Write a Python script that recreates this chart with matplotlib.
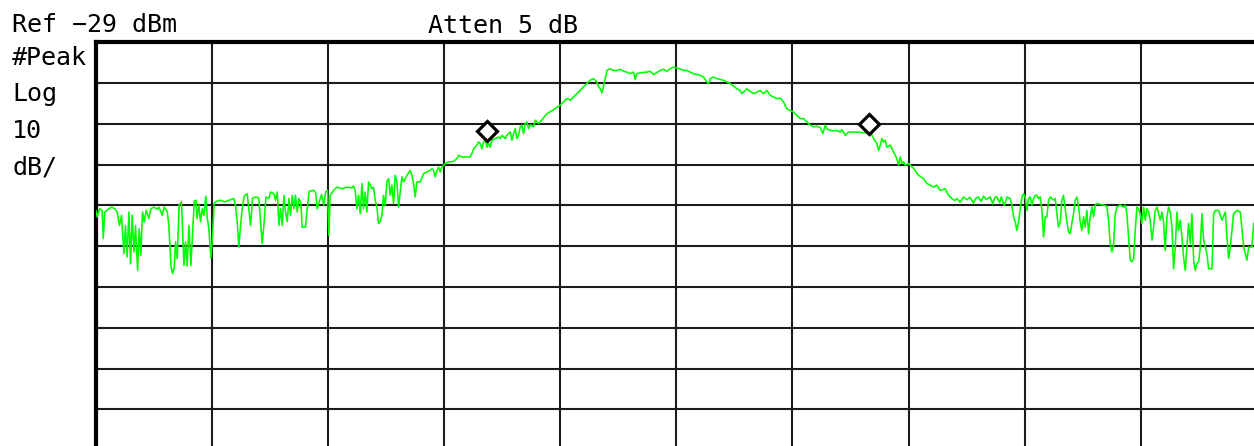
import matplotlib
matplotlib.use("Agg")
import matplotlib.pyplot as plt

REF_LEVEL = -29.0   # dBm at the top graticule line
DB_PER_DIV = 10.0
N_DIV = 10

# trace vertices: position in graticule divisions, level in dBm
trace_div = [
    0.000, 0.012, 0.032, 0.055, 0.064, 0.078, 0.113, 0.136, 0.164, 0.184,
    0.204, 0.222, 0.242, 0.256, 0.270, 0.285, 0.299, 0.313, 0.328, 0.342,
    0.360, 0.374, 0.388, 0.402, 0.417, 0.434, 0.457, 0.474, 0.503, 0.529,
    0.543, 0.572, 0.589, 0.615, 0.629, 0.647, 0.661, 0.675, 0.687, 0.701,
    0.718, 0.738, 0.759, 0.773, 0.787, 0.802, 0.819, 0.830, 0.848, 0.862,
    0.873, 0.888, 0.902, 0.917, 0.931, 0.948, 0.960, 0.974, 0.991, 1.005,
    1.020, 1.037, 1.074, 1.112, 1.146, 1.189, 1.204, 1.218, 1.232, 1.247,
    1.261, 1.278, 1.304, 1.318, 1.333, 1.350, 1.381, 1.404, 1.419, 1.433,
    1.448, 1.465, 1.491, 1.505, 1.534, 1.548, 1.563, 1.577, 1.591, 1.606,
    1.620, 1.634, 1.649, 1.663, 1.677, 1.692, 1.706, 1.720, 1.735, 1.749,
    1.766, 1.778, 1.806, 1.821, 1.838, 1.878, 1.893, 1.907, 1.921, 1.944,
    1.964, 1.979, 1.996, 2.007,
    2.019, 2.048, 2.077, 2.120, 2.163, 2.206, 2.220, 2.234, 2.249, 2.263,
    2.278, 2.292, 2.306, 2.321, 2.335, 2.349, 2.364, 2.378, 2.392, 2.407,
    2.421, 2.435, 2.450, 2.464, 2.478, 2.493, 2.507, 2.522, 2.536, 2.550,
    2.565, 2.579, 2.593, 2.608, 2.622, 2.636, 2.651, 2.680, 2.708, 2.723,
    2.737, 2.751, 2.766, 2.795, 2.823, 2.852, 2.880, 2.895, 2.909, 2.924,
    2.938, 2.952, 2.967, 2.981, 3.010, 3.039, 3.081, 3.110, 3.125, 3.153,
    3.197, 3.225, 3.239, 3.254, 3.282, 3.297, 3.311, 3.325, 3.340, 3.354,
    3.369, 3.383, 3.397, 3.412, 3.440, 3.469, 3.483, 3.498, 3.527, 3.541,
    3.570, 3.584, 3.598, 3.613, 3.627, 3.641, 3.656, 3.670, 3.684, 3.699,
    3.713, 3.727, 3.742, 3.771, 3.785, 3.814, 3.828, 3.857, 3.885, 3.943,
    4.000, 4.029, 4.058, 4.086, 4.115, 4.144, 4.172, 4.201, 4.230, 4.258,
    4.287, 4.316, 4.330, 4.345, 4.359, 4.373, 4.388, 4.402, 4.431, 4.459,
    4.488, 4.517, 4.545, 4.574, 4.603, 4.632, 4.646, 4.660, 4.703, 4.746,
    4.775, 4.804, 4.833, 4.861, 4.890, 4.919, 4.947, 4.976, 5.005, 5.033,
    5.062, 5.091, 5.119, 5.148, 5.177, 5.205, 5.234, 5.263, 5.278, 5.292,
    5.321, 5.349, 5.378, 5.407, 5.435, 5.464, 5.493, 5.522, 5.550, 5.565,
    5.579, 5.608, 5.636, 5.665, 5.694, 5.723, 5.751, 5.780, 5.809, 5.837,
    5.866, 5.895, 5.923, 5.952, 5.981, 6.009, 6.038, 6.067,
    6.096, 6.125, 6.153, 6.182, 6.211, 6.240, 6.262, 6.283, 6.297, 6.326,
    6.354, 6.383, 6.412, 6.426, 6.455, 6.484, 6.527, 6.570, 6.613, 6.671,
    6.685, 6.699, 6.728, 6.742, 6.757, 6.771, 6.785, 6.800, 6.814, 6.843,
    6.857, 6.872, 6.900, 6.915, 6.929, 6.943, 6.958, 6.972, 7.001, 7.044,
    7.087, 7.130, 7.158, 7.187, 7.216, 7.245, 7.273, 7.316, 7.345, 7.374,
    7.400, 7.417, 7.445, 7.474, 7.503, 7.530, 7.560, 7.580, 7.603, 7.625,
    7.646, 7.670, 7.704, 7.725, 7.745, 7.761, 7.785, 7.800, 7.825, 7.850,
    7.876, 7.890, 7.905, 7.919, 7.933, 7.948, 7.962, 7.977, 7.991, 8.005,
    8.020, 8.034, 8.048, 8.063, 8.077, 8.091, 8.106, 8.120, 8.134, 8.149,
    8.163, 8.178, 8.192, 8.206, 8.221, 8.235, 8.249, 8.264, 8.278, 8.292,
    8.307, 8.321, 8.335, 8.350, 8.364, 8.379, 8.393, 8.407, 8.422, 8.436,
    8.450, 8.465, 8.479, 8.493, 8.508, 8.522, 8.536, 8.551, 8.565, 8.580,
    8.594, 8.608, 8.623, 8.651, 8.680, 8.709, 8.723, 8.737, 8.752, 8.766,
    8.781, 8.795, 8.824, 8.852, 8.867, 8.881, 8.895, 8.910, 8.924, 8.939,
    8.953, 8.967, 8.982, 8.996, 9.010, 9.025, 9.039, 9.053, 9.068, 9.082,
    9.097, 9.111, 9.125, 9.140, 9.154, 9.168, 9.183, 9.197, 9.211, 9.226,
    9.240, 9.255, 9.269, 9.283, 9.298, 9.312, 9.326, 9.341, 9.355, 9.369,
    9.384, 9.398, 9.412, 9.427, 9.441, 9.456, 9.470, 9.484, 9.499, 9.513,
    9.527, 9.542, 9.570, 9.585, 9.614, 9.628, 9.642, 9.671, 9.700, 9.729,
    9.743, 9.757, 9.772, 9.800, 9.829, 9.858, 9.887, 9.915, 9.930, 9.958,
    9.973,
]
trace_dbm = [
    -70.2, -71.8, -69.8, -70.2, -77.1, -70.6, -69.8, -69.4, -69.8, -70.6,
    -73.9, -71.4, -80.8, -73.9, -81.6, -70.6, -83.3, -71.4, -80.4, -73.9,
    -84.9, -74.7, -81.2, -70.6, -73.0, -70.2, -72.2, -69.8, -69.4, -69.9,
    -69.4, -71.4, -69.4, -70.4, -73.9, -83.7, -85.7, -84.5, -77.9, -82.0,
    -68.9, -68.1, -83.7, -77.9, -83.8, -73.9, -83.7, -77.9, -68.0, -67.7,
    -72.2, -68.9, -73.0, -69.8, -71.4, -66.7, -72.2, -74.7, -81.9, -76.3,
    -68.5, -68.0, -67.7, -68.1, -67.7, -67.3, -69.1, -73.0, -79.2, -73.9,
    -69.8, -66.7, -66.1, -69.8, -73.9, -67.2, -66.9, -67.2, -73.0, -78.3,
    -73.9, -66.9, -67.3, -65.7, -66.1, -67.7, -65.7, -73.9, -69.8, -73.9,
    -66.5, -70.6, -73.0, -67.3, -71.4, -66.5, -69.8, -66.5, -70.6, -67.3,
    -68.5, -74.3, -74.3, -69.8, -65.5, -65.3, -65.8, -69.8, -68.5, -66.3,
    -68.9, -65.7, -65.3, -76.3,
    -66.5, -65.3, -64.5, -64.9, -64.5, -64.7, -64.2, -65.3, -69.8, -66.5,
    -71.0, -63.6, -69.8, -65.7, -70.6, -63.2, -64.0, -64.9, -64.5, -67.7,
    -69.4, -73.4, -73.0, -71.4, -66.5, -69.0, -63.2, -62.4, -66.5, -64.0,
    -68.5, -61.6, -63.2, -69.4, -65.7, -62.0, -63.2, -61.6, -60.4, -61.6,
    -63.6, -66.9, -63.2, -63.2, -61.2, -60.8, -60.4, -60.0, -60.4, -62.0,
    -60.4, -59.6, -60.8, -59.6, -58.7, -58.3, -58.2, -57.5, -56.7, -57.1,
    -57.1, -57.1, -56.3, -55.1, -54.2, -53.4, -53.8, -55.1, -53.4, -53.0,
    -54.7, -53.8, -54.7, -53.0, -52.6, -52.2, -52.6, -51.8, -52.6, -51.8,
    -51.0, -53.0, -51.4, -50.2, -52.6, -51.8, -49.7, -49.3, -51.4, -48.9,
    -48.5, -50.2, -49.2, -49.7, -48.1, -48.9, -48.5, -47.5, -46.5, -45.5,
    -44.4, -43.6, -42.8, -43.2, -42.4, -41.6, -40.8, -39.9, -39.1, -38.3,
    -37.9, -38.7, -39.9, -40.4, -41.4, -39.9, -37.9, -35.9, -35.5, -35.9,
    -35.9, -35.6, -36.1, -36.3, -36.7, -36.3, -38.1, -36.7, -36.4, -36.3,
    -36.1, -36.9, -36.4, -35.9, -35.6, -36.1, -35.5, -35.1, -35.3, -35.5,
    -35.9, -35.9, -36.3, -36.7, -36.9, -37.1, -37.5, -38.7, -39.1, -37.9,
    -37.5, -37.9, -38.1, -38.3, -38.7, -39.1, -39.7, -40.4, -40.8, -41.6,
    -41.2, -40.4, -41.0, -41.6, -41.2, -40.8, -41.6, -40.8, -42.0, -42.4,
    -42.8, -42.7, -43.6, -45.3, -45.7, -46.1, -46.9, -47.7,
    -47.7, -48.5, -49.3, -49.7, -49.6, -49.9, -51.4, -49.3, -50.2, -50.6,
    -50.7, -50.6, -51.0, -50.4, -51.8, -51.0, -51.0, -51.0, -51.2, -51.0,
    -51.8, -52.6, -53.8, -55.5, -54.2, -52.6, -53.4, -53.0, -54.7, -54.2,
    -55.1, -55.9, -57.5, -59.1, -57.1, -58.7, -58.3, -59.1, -58.7, -59.9,
    -61.6, -62.4, -63.6, -64.0, -64.5, -64.0, -65.3, -64.9, -66.5, -67.3,
    -67.8, -67.3, -68.2, -66.9, -67.6, -67.0, -68.4, -67.2, -66.9, -68.0,
    -66.7, -67.5, -66.9, -68.6, -67.0, -66.9, -68.3, -66.9, -69.0, -66.9,
    -67.3, -68.9, -71.8, -73.0, -75.1, -73.0, -69.8, -66.9, -66.1, -66.9,
    -70.2, -67.3, -66.9, -68.9, -67.3, -66.5, -66.5, -67.3, -66.9, -70.2,
    -76.7, -71.8, -71.8, -67.7, -66.9, -67.3, -67.7, -67.3, -71.0, -74.3,
    -73.0, -67.7, -66.5, -69.8, -73.0, -75.5, -75.9, -73.4, -71.0, -67.7,
    -66.9, -69.4, -73.0, -75.1, -71.8, -74.3, -70.2, -75.9, -71.8, -69.4,
    -71.8, -68.9, -68.5, -68.7, -68.9, -69.2, -72.6, -78.3, -80.4, -78.8,
    -71.0, -69.4, -68.9, -69.4, -68.9, -71.0, -76.7, -82.4, -82.8, -82.0,
    -75.1, -69.4, -69.8, -71.0, -73.4, -69.4, -72.6, -69.8, -70.6, -72.6,
    -77.5, -74.3, -70.2, -69.4, -71.0, -72.6, -70.6, -73.0, -80.0, -71.8,
    -69.4, -70.6, -74.3, -84.5, -79.2, -70.6, -75.1, -72.6, -76.7, -81.6,
    -84.9, -79.2, -73.4, -78.3, -71.0, -82.4, -84.9, -83.2, -82.8, -79.2,
    -71.0, -77.5, -80.8, -84.5, -84.5, -71.0, -70.2, -70.2, -72.6, -70.6,
    -76.7, -82.0, -79.2, -71.0, -70.2, -70.6, -79.2, -82.4, -79.2, -79.2,
    -73.4,
]

# marker readouts
marker_div = [3.369, 6.664]
marker_dbm = [-50.8, -49.1]

ref_label = "Ref −29 dBm"
atten_label = "Atten 5 dB"
side_labels = ["#Peak", "Log", "10", "dB/"]

W, H = 1254, 446
fig = plt.figure(figsize=(W / 100, H / 100), dpi=100)

# graticule box in pixels: left 95.8, top 42.3, 116.1 px per x div, 40.8 px per y div
left_px, top_px = 95.8, 42.3
box_w, box_h = 116.1 * N_DIV, 40.8 * N_DIV
ax = fig.add_axes([left_px / W, 1 - (top_px + box_h) / H, box_w / W, box_h / H])

ax.plot(trace_div, trace_dbm, color="#00ff00", lw=1.15, zorder=3)
ax.plot(marker_div, marker_dbm, ls="none", marker="D", ms=10,
        mfc="white", mec="black", mew=2.3, zorder=4)

ax.set_xlim(0, N_DIV)
ax.set_ylim(REF_LEVEL - DB_PER_DIV * N_DIV, REF_LEVEL)
ax.set_xticks(range(N_DIV + 1))
ax.set_yticks([REF_LEVEL - DB_PER_DIV * k for k in range(N_DIV + 1)])
ax.tick_params(length=0, labelleft=False, labelbottom=False)
ax.grid(True, color="#1c1c1c", lw=1.5)
ax.set_axisbelow(True)
for side, sp in ax.spines.items():
    sp.set_linewidth(3.0 if side in ("left", "top") else 1.5)
    sp.set_color("black")

mono = dict(family="DejaVu Sans Mono", fontsize=18, color="black", va="baseline")
fig.text(12 / W, 1 - 32 / H, ref_label, **mono)
fig.text(428 / W, 1 - 33 / H, atten_label, **mono)
for i, lab in enumerate(side_labels):
    fig.text(12 / W, 1 - (65 + 36.5 * i) / H, lab, **mono)

fig.savefig("out.png", dpi=100)
